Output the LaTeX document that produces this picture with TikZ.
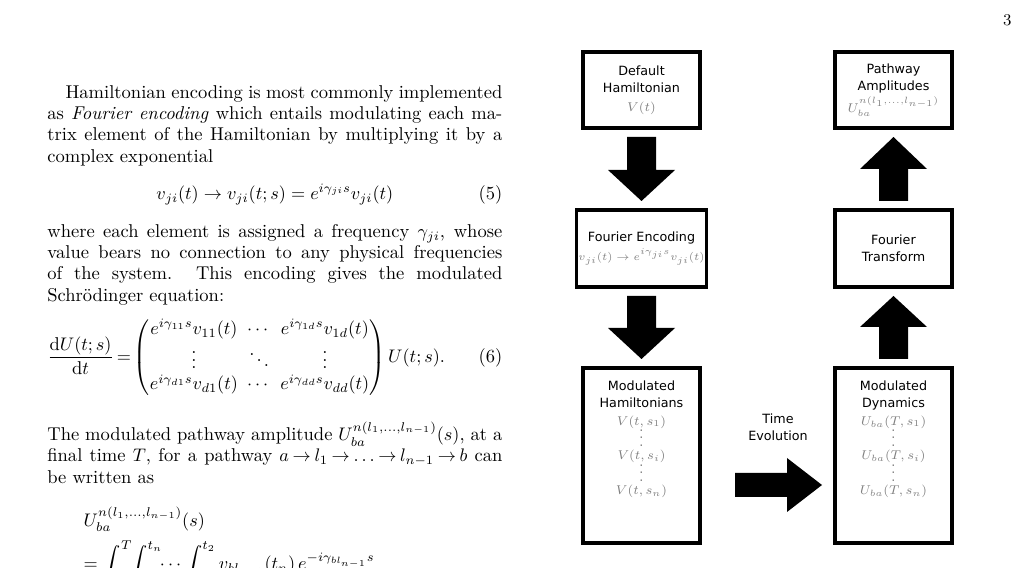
\documentclass[tikz,border=0pt]{standalone}
\usepackage{amsmath}
\usepackage{fontspec}
\newfontfamily\diag{DejaVu Sans}
\begin{document}
\begin{tikzpicture}[x=0.55pt,y=-0.55pt,
  box/.style={draw,line width=1.8pt,minimum width=117*0.55pt,inner sep=1pt,align=center,font=\diag\fontsize{7}{9.5}\selectfont},
  blk/.style={fill=black,draw=none}]
\useasboundingbox (0,0) rectangle (1029,568);
\clip (0,0) rectangle (1029,568);
\node[anchor=north east,font=\small] (pg) at (1018,8) {3};
\node[anchor=north west,inner sep=0pt] (txt) at (47,85) {\begin{minipage}{455\dimexpr0.55pt\relax}
\fontsize{10.2}{11.7}\selectfont
\parindent=10pt
\setlength\abovedisplayskip{9pt}\setlength\belowdisplayskip{9pt}
Hamiltonian encoding is most commonly implemented as \emph{Fourier encoding} which entails modulating each matrix element of the Hamiltonian by multiplying it by a complex exponential
\setcounter{equation}{4}
\begin{equation}
v_{ji}(t)\to v_{ji}(t;s)=e^{i\gamma_{ji}s}v_{ji}(t)
\end{equation}
where each element is assigned a frequency $\gamma_{ji}$, whose value bears no connection to any physical frequencies of the system.\ \ This encoding gives the modulated Schr\"odinger equation:\par\vspace{7pt}
{\setlength\arraycolsep{2.5pt}\thickmuskip=3mu
\noindent$\displaystyle\frac{\mathrm{d}U(t;s)}{\mathrm{d}t}=\begin{pmatrix}e^{i\gamma_{11}s}v_{11}(t)&\cdots&e^{i\gamma_{1d}s}v_{1d}(t)\\ \vdots&\ddots&\vdots\\ e^{i\gamma_{d1}s}v_{d1}(t)&\cdots&e^{i\gamma_{dd}s}v_{dd}(t)\end{pmatrix}U(t;s).$\hfill(6)\par}\vspace{13pt}%
\noindent The modulated pathway amplitude $U_{ba}^{n(l_1,\ldots,l_{n-1})}(s)$, at a final time $T$, for a pathway $a\!\to\! l_1\!\to\!\ldots\!\to\! l_{n-1}\!\to\! b$ can\linebreak be written as
\par\vspace{12pt}
\noindent\hspace*{20pt}$U_{ba}^{n(l_1,\ldots,l_{n-1})}(s)$\par\vspace{4pt}
\noindent\hspace*{20pt}$\displaystyle =\int_0^T\!\!\int_0^{t_n}\!\!\cdots\int_0^{t_2} v_{bl_{n-1}}(t_n)\,e^{-i\gamma_{bl_{n-1}}s}$
\end{minipage}};
% boxes
\node[box,minimum height=76*0.55pt] (dh) at (641.5,90) {Default\\Hamiltonian\\[1pt]\textcolor{gray}{$V(t)$}};
\node[box,minimum height=76*0.55pt] (pa) at (893.5,90) {Pathway\\Amplitudes\\[1pt]\textcolor{gray}{$U_{ba}^{n(l_1,\ldots,l_{n-1})}$}};
\node[box,minimum height=77*0.55pt] (fe) at (641.5,248.5) {Fourier Encoding\\[1pt]\textcolor{gray}{\fontsize{5.6}{7}\selectfont$v_{ji}(t)\to e^{i\gamma_{ji}s}v_{ji}(t)$}};
\node[box,minimum height=77*0.55pt] (ft) at (893.5,248.5) {Fourier\\Transform};
\node[box,minimum height=175*0.55pt] (mh) at (641.5,455.5) {Modulated\\Hamiltonians\\\textcolor{gray}{$V(t,s_1)$}\\[-6pt]\textcolor{gray}{$\vdots$}\\[-2pt]\textcolor{gray}{$V(t,s_i)$}\\[-6pt]\textcolor{gray}{$\vdots$}\\[-2pt]\textcolor{gray}{$V(t,s_n)$}\\[10pt]};
\node[box,minimum height=175*0.55pt] (md) at (893.5,455.5) {Modulated\\Dynamics\\\textcolor{gray}{$U_{ba}(T,s_1)$}\\[-6pt]\textcolor{gray}{$\vdots$}\\[-2pt]\textcolor{gray}{$U_{ba}(T,s_i)$}\\[-6pt]\textcolor{gray}{$\vdots$}\\[-2pt]\textcolor{gray}{$U_{ba}(T,s_n)$}\\[10pt]};
\node[align=center,font=\diag\fontsize{7}{9.5}\selectfont] (te) at (778,427) {Time\\Evolution};
% block arrows
\fill[blk] (627,137) -- (656,137) -- (656,170) -- (675,170) -- (641.5,201) -- (608,170) -- (627,170) -- cycle;
\fill[blk] (627,296) -- (656,296) -- (656,328) -- (675,328) -- (641.5,359) -- (608,328) -- (627,328) -- cycle;
\fill[blk] (879,359) -- (908,359) -- (908,327) -- (927,327) -- (893.5,296) -- (860,327) -- (879,327) -- cycle;
\fill[blk] (879,201) -- (908,201) -- (908,169) -- (927,169) -- (893.5,137) -- (860,169) -- (879,169) -- cycle;
\fill[blk] (735,473) -- (787,473) -- (787,458) -- (822,485) -- (787,512) -- (787,497) -- (735,497) -- cycle;
\end{tikzpicture}
\end{document}
